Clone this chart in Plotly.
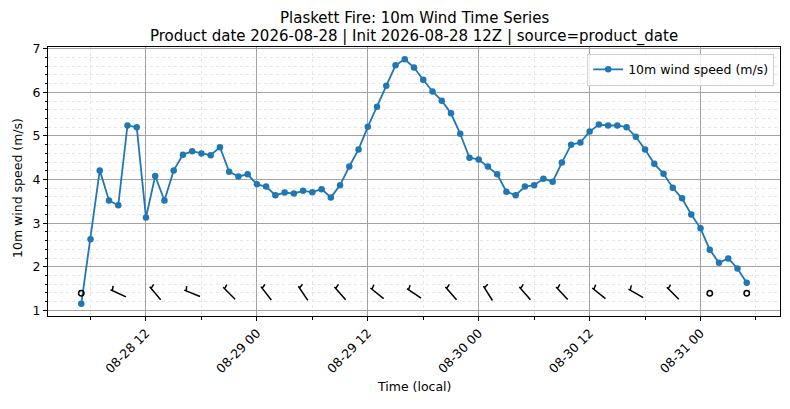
import numpy as np
import pandas as pd
import plotly.graph_objects as go

# hourly 10m wind speed (m/s), starting 2026-08-28 05:00 local
start_time = "2026-08-28 05:00"
wind_speed = [1.15, 2.63, 4.21, 3.52, 3.41, 5.24, 5.20, 3.13, 4.08, 3.52,
              4.21, 4.57, 4.65, 4.60, 4.56, 4.74, 4.18, 4.07, 4.12, 3.89,
              3.84, 3.64, 3.70, 3.68, 3.74, 3.71, 3.78, 3.59, 3.87, 4.30,
              4.69, 5.21, 5.67, 6.15, 6.62, 6.76, 6.57, 6.29, 6.02, 5.81,
              5.52, 5.05, 4.50, 4.46, 4.30, 4.12, 3.72, 3.64, 3.84, 3.87,
              4.02, 3.95, 4.39, 4.80, 4.85, 5.10, 5.26, 5.24, 5.24, 5.20,
              4.98, 4.69, 4.36, 4.13, 3.81, 3.57, 3.20, 2.88, 2.39, 2.09,
              2.19, 1.96, 1.63]

# wind barbs every 4 hours, direction the wind blows from (deg)
barb_every = 4
barb_dir = [300, 295, 320, 292, 315, 322, 326, 319, 309, 304,
            319, 328, 319, 317, 309, 300, 315, 300, 300]

title_lines = ["Plaskett Fire: 10m Wind Time Series",
               "Product date 2026-08-28 | Init 2026-08-28 12Z | source=product_date"]
xlabel = "Time (local)"
ylabel = "10m wind speed (m/s)"

times = pd.date_range(start_time, periods=len(wind_speed), freq="h")

# plot box in pixels (used to keep barbs a fixed size)
W, H = 790, 409
ml, mr, mt, mb = 48, 10, 47, 93
ph = H - mt - mb
pw = W - ml - mr

# matplotlib-style 5% padding
span = times[-1] - times[0]
xr = [times[0] - 0.05 * span, times[-1] + 0.05 * span]
ylo, yhi = min(wind_speed), max(wind_speed)
yr = [ylo - 0.05 * (yhi - ylo), yhi + 0.05 * (yhi - ylo)]
barb_y = 1.39

fig = go.Figure()
fig.add_trace(go.Scatter(
    x=times, y=wind_speed, mode="lines+markers",
    name="10m wind speed (m/s)",
    line=dict(color="#1f77b4", width=1.8),
    marker=dict(size=6.5, color="#1f77b4"),
))

# barbs: staff + half barb (speeds in m/s rounded to nearest 5)
L = 17.0
shapes = []
for i, d in enumerate(barb_dir):
    k = i * barb_every
    t = str(times[k])
    spd = wind_speed[k]
    rounded = 5 * int(spd / 5 + 0.5)
    if rounded == 0:
        r = 2.7
        shapes.append(dict(type="circle", xref="x", yref="y",
                           xsizemode="pixel", ysizemode="pixel",
                           xanchor=t, yanchor=barb_y,
                           x0=-r, x1=r, y0=-r, y1=r,
                           line=dict(color="black", width=1.5)))
        continue
    a = np.deg2rad(d)
    ux, uy = np.sin(a), np.cos(a)
    px, py = np.cos(a), -np.sin(a)
    x0, y0 = -ux * L / 2, -uy * L / 2
    x1, y1 = ux * L / 2, uy * L / 2
    off = 0.12 * L
    bx, by = x1 - ux * off, y1 - uy * off
    ex, ey = bx + px * 0.27 * L + ux * 0.08 * L, by + py * 0.27 * L + uy * 0.08 * L
    path = (f"M {x0:.2f} {y0:.2f} L {x1:.2f} {y1:.2f} "
            f"M {bx:.2f} {by:.2f} L {ex:.2f} {ey:.2f}")
    shapes.append(dict(type="path", xref="x", yref="y",
                       xsizemode="pixel", ysizemode="pixel",
                       xanchor=t, yanchor=barb_y, path=path,
                       line=dict(color="black", width=1.5)))

# title and axis labels placed in pixels, like matplotlib does
annotations = [
    dict(text=title_lines[0], x=0.5, y=(H - mb - 18.5) / ph, font=dict(size=15)),
    dict(text=title_lines[1], x=0.5, y=(H - mb - 36.5) / ph, font=dict(size=15)),
    dict(text=xlabel, x=0.5, y=(H - mb - 386) / ph, font=dict(size=12.5)),
    dict(text=ylabel, x=(17 - ml) / pw, y=(H - mb - 188) / ph, textangle=-90,
         font=dict(size=12.5)),
]
for a in annotations:
    a.update(xref="paper", yref="paper", showarrow=False,
             xanchor="center", yanchor="middle")

fig.update_layout(
    width=W, height=H,
    margin=dict(l=ml, r=mr, t=mt, b=mb, autoexpand=False),
    paper_bgcolor="white", plot_bgcolor="white",
    font=dict(family="DejaVu Sans", size=12.5, color="black"),
    shapes=shapes,
    annotations=annotations,
    showlegend=True,
    legend=dict(x=0.992, y=0.975, xanchor="right", yanchor="top",
                bgcolor="rgba(255,255,255,0.8)", bordercolor="#d0d0d0",
                borderwidth=1, font=dict(size=12.5)),
)

fig.update_xaxes(
    range=xr, type="date", automargin=False,
    tick0="2026-08-28 00:00", dtick=12 * 3600 * 1000,
    tickformat="%m-%d %H", tickangle=-45,
    ticks="outside", ticklen=4, tickcolor="black",
    showline=True, linecolor="black", linewidth=1, mirror=True,
    showgrid=True, gridcolor="#a3a3a3", gridwidth=0.8,
    minor=dict(dtick=6 * 3600 * 1000, ticks="outside", ticklen=2.5,
               tickcolor="black", showgrid=True, gridcolor="#e6e6e6",
               griddash="dot", gridwidth=0.6),
    zeroline=False,
)
fig.update_yaxes(
    range=yr, dtick=1, tick0=0, automargin=False,
    ticks="outside", ticklen=4, tickcolor="black",
    showline=True, linecolor="black", linewidth=1, mirror=True,
    showgrid=True, gridcolor="#a3a3a3", gridwidth=0.8,
    minor=dict(dtick=0.2, ticks="outside", ticklen=2.5, tickcolor="black",
               showgrid=True, gridcolor="#e6e6e6", griddash="dot", gridwidth=0.6),
    zeroline=False,
)

# page body has a default 8px margin; drop it so the figure fills the window
fig.write_html("out.html", config={"displayModeBar": False},
               post_script="document.body.style.margin='0px';")
